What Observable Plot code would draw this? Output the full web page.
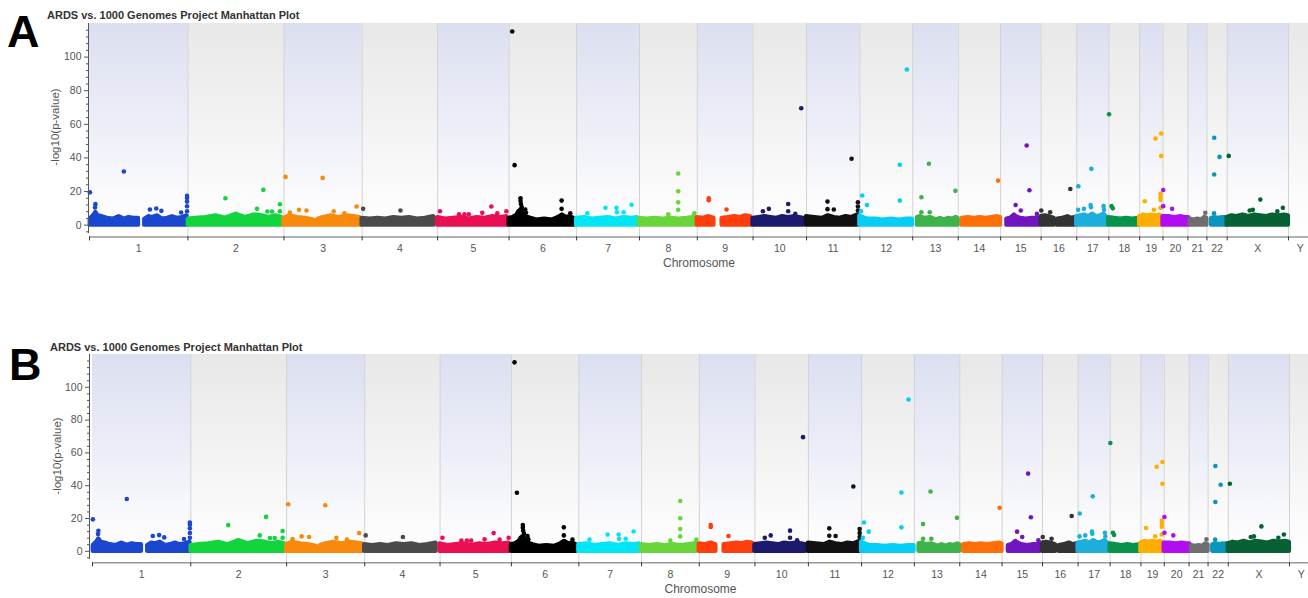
<!DOCTYPE html>
<html><head><meta charset="utf-8">
<script src="https://cdn.jsdelivr.net/npm/d3@7"></script>
<script src="https://cdn.jsdelivr.net/npm/@observablehq/plot@0.6"></script>
<style>
html,body{margin:0;padding:0;background:#fff;width:1308px;height:598px;overflow:hidden;}
#root{position:relative;width:1308px;height:598px;}
.panel{position:absolute;left:0;}
#overlay{position:absolute;left:0;top:0;pointer-events:none;}
</style></head><body><div id="root"></div>
<script>
// ---- data ----
const chromosomes = ["1","2","3","4","5","6","7","8","9","10","11","12","13","14","15","16","17","18","19","20","21","22","X","Y"];
const chromLengthsMb = [249.25,243.20,198.02,191.15,180.92,171.12,159.14,146.36,141.21,135.53,135.01,133.85,115.17,107.35,102.53,90.35,81.20,78.08,59.13,63.03,48.13,51.30,155.27,59.37];
const chromColors = ["#1b47cf","#12d43c","#f7890c","#4b4b4b","#ea0f52","#000000","#00e6f6","#68d63a","#ff3d0d","#1c1a6c","#111111","#06cdf3","#3db34a","#ff6e07","#7015c0","#333333","#1eaedc","#09924a","#ffae00","#b20df0","#6e6e6e","#0995bd","#076134","#999999"];
// dense band envelope per segment: [chromosome, [[position Mb, top -log10 p], ...]]
const bandSegments = [
  ["1", [[2,3.5],[12,6],[16,7.5],[22,5.5],[32,5],[45,4],[60,3.5],[75,5],[88,3.5],[100,4.5],[112,4],[124,4]]],
  ["1", [[140,3.5],[150,5],[160,4.5],[172,5.5],[185,3.5],[198,4],[210,5],[222,4],[235,4.5],[247,5.5]]],
  ["2", [[1,3.5],[20,4],[45,4.5],[71,5.5],[95,4],[122,6.5],[145,4.5],[168,6],[189,5.5],[205,4.5],[223,5.5],[238,4.5]]],
  ["3", [[0,4],[15,5.5],[35,4.5],[55,4],[75,3],[80,1],[86,3.5],[100,4.5],[120,5.5],[140,4.5],[160,5.5],[178,5],[192,4.5]]],
  ["4", [[0,4],[20,3.5],[40,4],[60,3.5],[80,4.5],[100,4],[120,4.5],[140,3.5],[160,4],[181,5]]],
  ["5", [[0,4.5],[20,3.5],[40,4],[60,4.5],[80,3.5],[100,4.5],[120,4],[140,5],[160,4.5],[175,5]]],
  ["6", [[0,4],[10,4.5],[20,6],[25,8],[30,9],[35,7],[42,5],[55,4],[70,3],[90,3.5],[110,3],[125,4.5],[135,6],[145,4.5],[155,5],[164,4]]],
  ["7", [[0,4],[20,4.5],[40,3.5],[60,4],[80,4.5],[100,3.5],[120,4.5],[140,4],[153,4.5]]],
  ["8", [[0,4],[20,3.5],[40,4],[60,3.5],[80,4],[100,3.5],[120,4],[135,4.5],[139,5.5]]],
  ["9", [[0,4.5],[15,4],[30,5],[42,4]]],
  ["9", [[63,4],[80,4.5],[95,5],[110,4.5],[122,5.5],[135,5]]],
  ["10", [[0,4],[15,4.5],[30,5],[45,4.5],[60,4],[75,5],[90,4.5],[105,5],[118,4.5],[128,4]]],
  ["11", [[0,5],[20,4.5],[40,4],[55,5.5],[70,4.5],[85,4],[100,5],[115,4.5],[125,5.5],[130,6]]],
  ["12", [[0,5.5],[8,4.5],[20,3.5],[40,3.5],[60,3],[80,3.5],[100,3],[120,3.5],[133,3.5]]],
  ["13", [[12,4.5],[20,5],[30,4],[45,4.5],[60,3],[70,4],[80,3],[90,4],[100,3.5],[110,4.5],[115,4]]],
  ["14", [[10,4],[25,4.5],[40,4],[55,4.5],[70,4],[85,4.5],[100,5],[107,4.5]]],
  ["15", [[16,3.5],[25,4],[35,6],[40,5],[50,4],[65,3.5],[80,4],[96,4]]],
  ["16", [[0,5],[10,5.5],[20,5],[33,4]]],
  ["16", [[42,3.5],[55,4],[68,5],[78,4],[86,4.5]]],
  ["17", [[0,5],[10,5.5],[20,6],[30,5],[40,6.5],[50,5],[60,5.5],[68,6.5],[75,5]]],
  ["18", [[0,4.5],[15,4],[30,3.5],[45,4],[60,3.5],[76,4]]],
  ["19", [[0,5],[10,6],[20,5.5],[30,6],[40,5.5],[50,6],[57,5]]],
  ["20", [[0,5],[15,5],[30,4.5],[45,5],[55,4.5],[65,4.5]]],
  ["21", [[6,3.5],[15,3],[25,3.5],[35,3],[42,4.5],[48,4]]],
  ["22", [[12,4],[20,4.5],[30,4],[40,4.5],[50,4.5]]],
  ["X", [[0,4.5],[12,5.5],[25,5],[40,6],[55,5],[70,6],[85,5.5],[100,5],[115,6],[130,5.5],[145,6],[155,5.5]]]
];
// individual points above the band: [chromosome, position Mb, -log10 p]
const outliers = [
  ["1",1,19.5],["1",15,12.5],["1",14,10.5],["1",87,31.9],["1",153,9.3],["1",169,9.9],["1",182,8.5],["1",232,7.5],["1",247,17.5],["1",247,16.2],["1",247,14],["1",247,11.2],["1",247,8.3],
  ["2",95,16],["2",191,21],["2",175,9.7],["2",233,12.4],["2",233,8.3],["2",201,8.1],["2",213,8.1],
  ["3",4,28.7],["3",98,28.1],["3",15,7.5],["3",38,9.1],["3",57,8.7],["3",126,8.3],["3",153,7.1],["3",184,11.1],
  ["4",2.5,9.7],["4",97,8.7],
  ["5",6,8.3],["5",54,6.5],["5",68,6.5],["5",79,6.5],["5",113,7.3],["5",136,11.1],["5",151,7.1],["5",174,8.3],
  ["6",8,115.2],["6",14,35.7],["6",29,16],["6",29,14.4],["6",30,12.6],["6",32,10.7],["6",41,9.3],["6",43,7.3],["6",133,14.6],["6",133,9.7],["6",155,7.1],
  ["7",27,7.1],["7",73,10.3],["7",101,10.3],["7",102,7.7],["7",119,7.7],["7",139,12.1],
  ["8",98,30.7],["8",98,20.2],["8",98,13.6],["8",98,9.1],["8",73,6.5],["8",139,7.1],
  ["9",29,16],["9",29,14.8],["9",74,9.3],
  ["10",122,69.6],["10",25,8.3],["10",40,9.7],["10",89,12.6],["10",89,8.3],["10",107,6.7],
  ["11",114,39.5],["11",53,14],["11",53,9.5],["11",69,9.3],["11",130,13.6],["11",130,11.1],["11",130,8.7],
  ["12",119,92.6],["12",101,35.9],["12",101,14.6],["12",6,17.6],["12",18,12],["12",3,8.3],
  ["13",41,36.5],["13",108,20.4],["13",22,16.6],["13",22,7.7],["13",43,7.7],
  ["14",101,26.5],
  ["15",66,47.4],["15",73,20.8],["15",38,12],["15",51,8.7],["15",92,6.7],
  ["16",0.5,8.7],["16",23,7.7],["16",74,21.5],
  ["17",4,23.1],["17",37,33.5],["17",3.5,9.1],["17",18,9.7],["17",35,12],["17",36,10.7],["17",68,11.3],["17",69,9.1],
  ["18",0.5,66],["18",7,11.3],["18",10,10],
  ["19",13,14.2],["19",40,51.5],["19",54.5,54.5],["19",54.5,41.2],["19",36,9.1],["19",53,18.6],["19",53,16.6],["19",53,15],["19",53,10.3],
  ["20",0.5,20.9],["20",0.5,11.3],["20",23,9.7],
  ["21",44,7.3],
  ["22",18.5,52],["22",32,40.6],["22",18.5,30.1],["22",18,7.1],
  ["X",4,41.2],["X",84,15.2],["X",65,9.1],["X",141,10.3],["X",57,8.7],["X",127,8.3]
];
const yMajorTicks = [0,20,40,60,80,100];
const yMinorTicks = [-4,4,8,12,16,24,28,32,36,44,48,52,56,64,68,72,76,84,88,92,96,104,108,112,116];
const titleText = "ARDS vs. 1000 Genomes Project Manhattan Plot";
const yLabel = "-log10(p-value)";
const xLabel = "Chromosome";

// ---- derived tables ----
const starts = []; {let acc = 0; for (const l of chromLengthsMb) { starts.push(acc); acc += l; }}
const idx = new Map(chromosomes.map((c, i) => [c, i]));
const chromTable = chromosomes.map((c, i) => ({chr: c, start: starts[i], end: starts[i] + chromLengthsMb[i], mid: starts[i] + chromLengthsMb[i] / 2, shade: i % 2}));
const bandPoints = bandSegments.flatMap(([chr, pts], s) => pts.map(([p, v]) => ({seg: s, gx: starts[idx.get(chr)] + p, top: v, color: chromColors[idx.get(chr)]})));
const outlierPoints = outliers.map(([chr, p, v]) => ({gx: starts[idx.get(chr)] + p, v, color: chromColors[idx.get(chr)]}));

function addGradients(svg, id) {
  const ns = "http://www.w3.org/2000/svg";
  const defs = document.createElementNS(ns, "defs");
  defs.innerHTML = `
    <linearGradient id="${id}-lav" x1="0" y1="0" x2="0" y2="1">
      <stop offset="0" stop-color="#dcdff0"/><stop offset="0.45" stop-color="#ebedf7"/><stop offset="0.85" stop-color="#fcfcfe"/><stop offset="1" stop-color="#ffffff"/>
    </linearGradient>
    <linearGradient id="${id}-gray" x1="0" y1="0" x2="0" y2="1">
      <stop offset="0" stop-color="#e8e8e8"/><stop offset="0.45" stop-color="#f2f2f2"/><stop offset="0.85" stop-color="#fcfcfc"/><stop offset="1" stop-color="#ffffff"/>
    </linearGradient>`;
  svg.insertBefore(defs, svg.firstChild);
}

function panel({id, top, height, marginTop, marginBottom, marginLeft, xMax, yAxisDx}) {
  const svg = Plot.plot({
    width: 1308, height, marginTop, marginBottom, marginLeft, marginRight: 0,
    x: {domain: [0, xMax], axis: null},
    y: {domain: [-7, 120], axis: null},
    color: {type: "identity"},
    style: {fontFamily: '"Liberation Sans", Arial, sans-serif', fontSize: "10px", color: "#555", background: "transparent"},
    marks: [
      Plot.rect(chromTable.filter(d => d.shade === 0), {x1: "start", x2: "end", y1: -7, y2: 120, fill: `url(#${id}-lav)`}),
      Plot.rect(chromTable.filter(d => d.shade === 1), {x1: "start", x2: "end", y1: -7, y2: 120, fill: `url(#${id}-gray)`}),
      Plot.ruleX(chromTable.slice(1), {x: "start", y1: -7, y2: 120, stroke: "#d2d2d2", strokeWidth: 1}),
      Plot.areaY(bandPoints, {x: "gx", y1: 0, y2: "top", z: "seg", fill: "color", stroke: "color", strokeWidth: 4.4, strokeLinejoin: "round"}),
      Plot.dot(outlierPoints, {x: "gx", y: "v", r: 2.3, fill: "color"}),
      Plot.ruleX([0], {y1: -5, y2: 120, dx: yAxisDx, stroke: "#555", strokeWidth: 1}),
      Plot.axisY(yMinorTicks, {tickSize: 2, tickFormat: () => "", dx: yAxisDx, label: null}),
      Plot.axisY(yMajorTicks, {tickSize: 4, tickPadding: 3, dx: yAxisDx, label: null, fontSize: 10.5}),
      Plot.ruleY([-7], {stroke: "#999", strokeWidth: 1.5}),
      Plot.axisX(chromTable.map(d => d.start).filter(v => v <= xMax), {tickSize: 4, tickFormat: () => "", stroke: "#333", label: null}),
      Plot.text(chromTable.filter(d => d.mid <= xMax), {x: "mid", text: "chr", frameAnchor: "bottom", dy: 15, fill: "#555", fontSize: 10.5}),
      Plot.text([xLabel], {frameAnchor: "bottom", dy: 30.5, fill: "#555", fontSize: 12})
    ]
  });
  addGradients(svg, id);
  svg.classList.add("panel");
  svg.style.top = top + "px";
  return svg;
}

const root = document.getElementById("root");
root.appendChild(panel({id: "pa", top: 0, height: 280, marginTop: 23, marginBottom: 43.6, marginLeft: 89, xMax: 3087, yAxisDx: -1}));
root.appendChild(panel({id: "pb", top: 330, height: 268, marginTop: 24, marginBottom: 35.7, marginLeft: 92, xMax: 3084.5, yAxisDx: -3}));

// overlay texts: panel letters, titles, y-axis titles
const ns = "http://www.w3.org/2000/svg";
const ov = document.createElementNS(ns, "svg");
ov.setAttribute("id", "overlay"); ov.setAttribute("width", 1308); ov.setAttribute("height", 598);
function addText(t, attrs) {
  const e = document.createElementNS(ns, "text");
  for (const k in attrs) e.setAttribute(k, attrs[k]);
  e.setAttribute("font-family", '"Liberation Sans", Arial, sans-serif');
  e.textContent = t; ov.appendChild(e);
}
[["A", 7, 47], ["B", 9, 380]].forEach(([t, x, y]) => addText(t, {x, y, "font-weight": "bold", "font-size": 45}));
[[47, 18.5], [50, 350.5]].forEach(([x, y]) => addText(titleText, {x, y, "font-weight": "bold", "font-size": 11, fill: "#333"}));
[[56, 127], [58, 456]].forEach(([x, y]) => addText(yLabel, {transform: `translate(${x},${y}) rotate(-90)`, "text-anchor": "middle", "dominant-baseline": "middle", "font-size": 11.5, fill: "#555"}));
root.appendChild(ov);
</script></body></html>
